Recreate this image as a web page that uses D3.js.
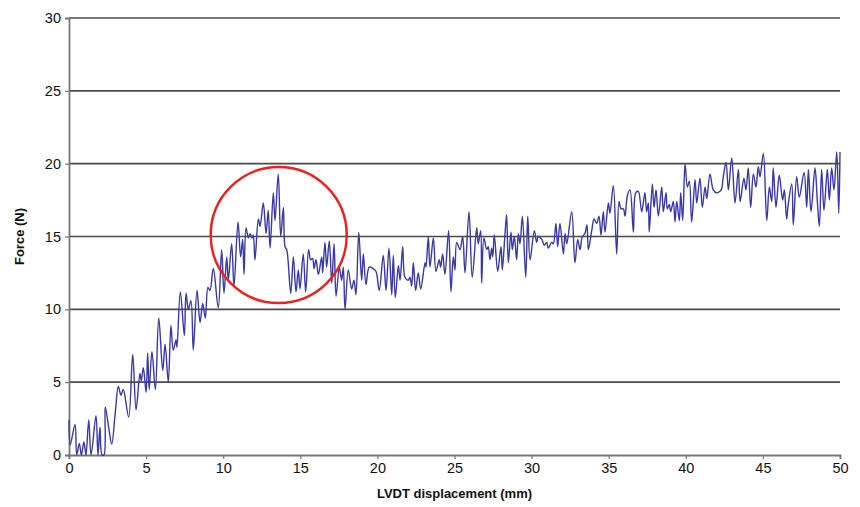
<!DOCTYPE html>
<html>
<head>
<meta charset="utf-8">
<script src="https://cdn.jsdelivr.net/npm/d3@7"></script>
<style>
  html, body { margin: 0; padding: 0; background: #fff; }
  svg { display: block; }
  text { font-family: "Liberation Sans", Arial, sans-serif; }
</style>
</head>
<body>
<svg id="chart" width="860" height="507"></svg>
<script>
// ---- data ----
const displacement = [
  0, 0.08, 0.39, 0.5, 0.67, 0.8, 0.97, 1.1, 1.28, 1.43, 1.75, 1.88, 2.01, 2.14, 2.27, 2.35, 2.57, 2.77, 3.0, 3.2,
  3.37, 3.52, 3.87, 4.13, 4.35, 4.6, 4.69, 4.82, 5.0, 5.1, 5.2, 5.38, 5.6, 5.82, 6.08, 6.23, 6.44, 6.61, 6.76, 6.94,
  7.0, 7.22, 7.48, 7.59, 7.74, 7.91, 8.06, 8.3, 8.5, 8.67, 8.84, 9.01, 9.14, 9.36, 9.68, 9.9, 10.05, 10.23, 10.33, 10.55,
  10.7, 10.96, 11.13, 11.26, 11.35, 11.48, 11.63, 11.74, 11.87, 11.95, 12.06, 12.28, 12.39, 12.6, 12.78, 12.92, 13.04, 13.25, 13.36, 13.57,
  13.73, 13.9, 14.01, 14.12, 14.38, 14.55, 14.72, 14.87, 14.98, 15.19, 15.35, 15.54, 15.67, 15.8, 15.89, 16.02, 16.17, 16.39, 16.45, 16.6,
  16.71, 16.88, 17.04, 17.19, 17.32, 17.53, 17.68, 17.79, 17.9, 18.11, 18.33, 18.48, 18.61, 18.79, 18.98, 19.09, 19.26, 19.47, 19.73, 19.91,
  20.12, 20.38, 20.56, 20.75, 20.93, 21.03, 21.16, 21.36, 21.47, 21.64, 21.79, 22.0, 22.11, 22.22, 22.33, 22.48, 22.65, 22.81, 23.09, 23.15,
  23.3, 23.41, 23.63, 23.8, 24.01, 24.1, 24.23, 24.38, 24.62, 24.77, 24.92, 25.03, 25.14, 25.36, 25.53, 25.68, 25.94, 26.15, 26.44, 26.54,
  26.7, 26.76, 26.91, 27.09, 27.19, 27.3, 27.41, 27.48, 27.58, 27.8, 27.95, 28.02, 28.1, 28.27, 28.38, 28.49, 28.66, 28.75, 28.88, 29.03,
  29.14, 29.25, 29.4, 29.62, 29.75, 29.9, 30.18, 30.33, 30.44, 30.66, 30.82, 30.98, 31.08, 31.3, 31.41, 31.58, 31.69, 31.84, 32.06, 32.17,
  32.28, 32.6, 32.81, 32.99, 33.14, 33.29, 33.46, 33.59, 33.68, 33.9, 34.05, 34.22, 34.37, 34.5, 34.65, 34.76, 34.98, 35.08, 35.3, 35.52,
  35.67, 35.8, 35.95, 36.06, 36.21, 36.38, 36.6, 36.75, 36.92, 37.14, 37.35, 37.46, 37.57, 37.63, 37.83, 37.94, 38.07, 38.22, 38.44, 38.54,
  38.72, 38.8, 38.93, 39.02, 39.19, 39.3, 39.41, 39.58, 39.67, 39.8, 39.95, 40.1, 40.23, 40.38, 40.6, 40.71, 40.92, 41.07, 41.25, 41.36,
  41.57, 41.78, 42.0, 42.22, 42.33, 42.43, 42.61, 42.76, 42.98, 43.19, 43.41, 43.52, 43.77, 43.9, 44.05, 44.21, 44.38, 44.55, 44.7, 44.81,
  45.03, 45.25, 45.42, 45.57, 45.67, 45.85, 46.06, 46.28, 46.39, 46.54, 46.63, 46.87, 46.97, 47.19, 47.36, 47.67, 47.84, 47.95, 48.12, 48.38,
  48.53, 48.66, 48.81, 48.96, 49.18, 49.31, 49.46, 49.61, 49.79, 49.92, 50.0
];
const force = [
  2.4, 0.7, 2.1, 0, 0.8, 0, 0.9, 0, 2.4, 0, 2.7, 0, 1.9, 0, 0, 3.3, 1.9, 0.75, 2.9, 4.7,
  4.1, 4.5, 2.6, 6.9, 3.1, 5.6, 5.1, 6.0, 4.3, 7.0, 4.5, 7.1, 4.5, 9.4, 5.8, 7.6, 5.0, 8.9, 7.2, 7.9,
  7.4, 11.2, 8.2, 11.1, 10.0, 10.6, 7.2, 11.3, 9.1, 10.4, 9.4, 11.5, 11.3, 12.8, 10.1, 14.1, 11.1, 13.6, 12.0, 14.5,
  11.6, 16.0, 13.6, 14.8, 12.4, 15.6, 14.9, 15.2, 14.9, 15.1, 13.4, 16.2, 15.7, 17.3, 15.2, 16.8, 14.2, 18.0, 16.1, 19.3,
  15.0, 17.0, 14.3, 14.1, 11.1, 13.6, 11.2, 12.7, 11.4, 13.8, 11.2, 14.1, 13.4, 13.5, 12.8, 13.4, 12.4, 13.6, 12.5, 14.6,
  12.9, 14.7, 11.8, 14.5, 10.9, 12.9, 12.0, 12.9, 10.0, 12.7, 11.4, 12.0, 11.0, 15.3, 12.0, 13.8, 11.7, 12.9, 12.8, 12.6,
  11.3, 13.7, 11.3, 14.2, 11.0, 13.7, 10.8, 13.0, 12.0, 14.3, 12.2, 12.0, 12.2, 11.6, 13.2, 11.3, 12.5, 11.4, 13.2, 12.9,
  15.0, 12.9, 14.9, 12.6, 13.4, 12.9, 13.8, 12.4, 15.4, 11.2, 13.6, 12.7, 14.6, 14.1, 15.0, 12.5, 16.7, 12.2, 15.6, 14.5,
  15.4, 11.8, 14.9, 14.1, 14.3, 13.4, 14.2, 13.6, 15.1, 12.6, 13.8, 14.3, 12.7, 15.1, 16.5, 13.2, 15.3, 14.1, 15.0, 13.4,
  15.2, 14.5, 16.4, 12.2, 16.4, 13.4, 15.4, 14.6, 15.0, 14.8, 14.4, 14.6, 14.2, 14.6, 14.5, 15.9, 14.3, 15.9, 13.8, 15.2,
  14.5, 16.7, 13.2, 14.8, 14.1, 15.0, 15.2, 15.8, 14.1, 15.4, 16.2, 15.9, 16.4, 15.1, 16.7, 15.3, 17.3, 16.6, 18.5, 13.8,
  17.4, 16.9, 16.9, 16.4, 17.8, 18.2, 15.3, 18.0, 18.1, 16.7, 18.0, 16.7, 17.3, 15.3, 18.6, 17.0, 18.2, 16.4, 18.4, 16.7,
  18.0, 16.9, 17.2, 16.7, 17.4, 16.0, 17.4, 16.1, 18.0, 16.1, 20.0, 18.4, 18.8, 16.0, 18.9, 17.3, 19.0, 17.0, 18.4, 17.6,
  19.3, 18.2, 18.0, 18.1, 18.3, 19.1, 20.1, 18.2, 20.4, 17.3, 19.6, 17.4, 19.0, 18.2, 19.7, 17.0, 19.3, 18.4, 19.8, 19.1,
  20.7, 16.1, 18.4, 17.4, 19.7, 17.0, 19.2, 17.5, 18.2, 16.2, 17.1, 18.6, 15.8, 19.1, 17.7, 19.4, 17.0, 19.6, 16.7, 19.7,
  17.4, 15.7, 19.6, 16.8, 19.6, 17.5, 19.7, 18.2, 20.8, 16.6, 20.8
];
const xTicks = [0, 5, 10, 15, 20, 25, 30, 35, 40, 45, 50];
const yTicks = [0, 5, 10, 15, 20, 25, 30];
const xTitle = "LVDT displacement (mm)";
const yTitle = "Force (N)";
const highlight = { x: 13.6, y: 15.1 }; // centre of the red circle, data units

// ---- layout ----
const svg = d3.select("#chart");
const mLeft = 69, mRight = 840, mTop = 18, mBottom = 455;
const x = d3.scaleLinear().domain([0, 50]).range([mLeft, mRight]);
const y = d3.scaleLinear().domain([0, 30]).range([mBottom, mTop]);

// gridlines
svg.append("g")
  .selectAll("line")
  .data(yTicks.filter(d => d > 0))
  .join("line")
  .attr("x1", mLeft).attr("x2", mRight)
  .attr("y1", d => y(d)).attr("y2", d => y(d))
  .attr("stroke", "#4a4a4a").attr("stroke-width", 1.6);

// y axis
const yAxis = svg.append("g")
  .attr("transform", `translate(${mLeft},0)`)
  .call(d3.axisLeft(y).tickValues(yTicks).tickSize(4).tickPadding(4).tickFormat(d3.format("d")));
yAxis.select(".domain").attr("stroke", "#777").attr("stroke-width", 1.8);
yAxis.selectAll(".tick line").attr("stroke", "#777").attr("stroke-width", 1.2);
yAxis.selectAll("text").attr("font-size", 14.5).attr("fill", "#111");

// x axis
const xAxis = svg.append("g")
  .attr("transform", `translate(0,${mBottom})`)
  .call(d3.axisBottom(x).tickValues(xTicks).tickSize(4).tickPadding(4).tickFormat(d3.format("d")));
xAxis.select(".domain").attr("stroke", "#777").attr("stroke-width", 1.8);
xAxis.selectAll(".tick line").attr("stroke", "#777").attr("stroke-width", 1.2);
xAxis.selectAll("text").attr("font-size", 14.5).attr("fill", "#111");

// titles
svg.append("text")
  .attr("x", (mLeft + mRight) / 2).attr("y", 498)
  .attr("text-anchor", "middle")
  .attr("font-size", 13).attr("font-weight", "bold").attr("fill", "#111")
  .text(xTitle);
svg.append("text")
  .attr("transform", `translate(24,${(mTop + mBottom) / 2}) rotate(-90)`)
  .attr("text-anchor", "middle")
  .attr("font-size", 13).attr("font-weight", "bold").attr("fill", "#111")
  .text(yTitle);

// data line
const n = Math.min(displacement.length, force.length);
const pts = d3.range(n).map(i => [displacement[i], force[i]]);
const line = d3.line()
  .x(d => x(d[0])).y(d => y(Math.max(0, d[1])))
  .curve(d3.curveCatmullRom.alpha(0.5));
svg.append("path")
  .datum(pts)
  .attr("d", line)
  .attr("fill", "none")
  .attr("stroke", "#3838a6")
  .attr("stroke-width", 1.4)
  .attr("stroke-linejoin", "round");

// red highlight circle
svg.append("circle")
  .attr("cx", x(highlight.x)).attr("cy", y(highlight.y))
  .attr("r", 68)
  .attr("fill", "none")
  .attr("stroke", "#e8221c")
  .attr("stroke-width", 2.5);
</script>
</body>
</html>
